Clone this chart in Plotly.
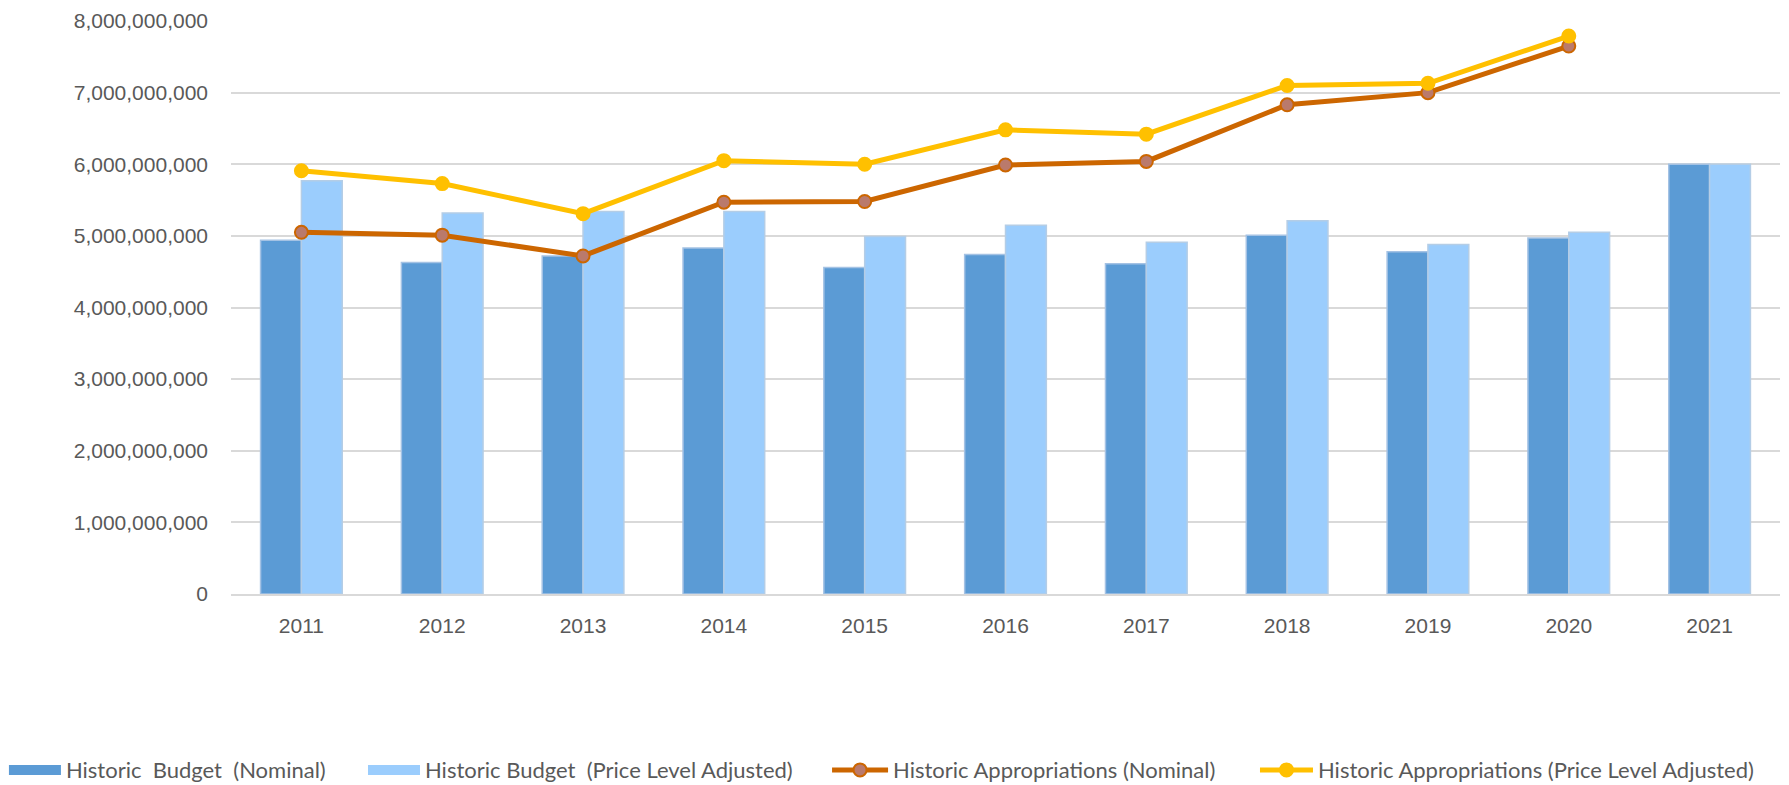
import plotly.graph_objects as go

years = ["2011", "2012", "2013", "2014", "2015", "2016", "2017", "2018", "2019", "2020", "2021"]
budget_nominal = [4.94e9, 4.63e9, 4.72e9, 4.83e9, 4.56e9, 4.74e9, 4.61e9, 5.01e9, 4.78e9, 4.97e9, 6.00e9]
budget_adjusted = [5.77e9, 5.32e9, 5.34e9, 5.34e9, 4.99e9, 5.15e9, 4.91e9, 5.21e9, 4.88e9, 5.05e9, 6.00e9]
approp_years = ["2011", "2012", "2013", "2014", "2015", "2016", "2017", "2018", "2019", "2020"]
approp_nominal = [5.05e9, 5.01e9, 4.72e9, 5.47e9, 5.48e9, 5.99e9, 6.04e9, 6.83e9, 7.00e9, 7.65e9]
approp_adjusted = [5.91e9, 5.73e9, 5.31e9, 6.05e9, 6.00e9, 6.48e9, 6.42e9, 7.10e9, 7.13e9, 7.79e9]
y_ticks = [0, 1e9, 2e9, 3e9, 4e9, 5e9, 6e9, 7e9, 8e9]

names = ["Historic  Budget  (Nominal)", "Historic Budget  (Price Level Adjusted)",
         "Historic Appropriations (Nominal)", "Historic Appropriations (Price Level Adjusted)"]

C_DARK = "#5B9BD5"
C_LIGHT = "#9BCDFD"
C_ORANGE = "#CC6600"
C_YELLOW = "#FFC000"

fig = go.Figure()
fig.add_trace(go.Bar(x=years, y=budget_nominal, name=names[0], showlegend=False,
                     marker=dict(color=C_DARK, line=dict(color="#A4C2E4", width=1.5))))
fig.add_trace(go.Bar(x=years, y=budget_adjusted, name=names[1], showlegend=False,
                     marker=dict(color=C_LIGHT, line=dict(color="#B4CDE6", width=1.5))))
# legend entries for the bar series (wide rectangle swatches as in the original)
fig.add_trace(go.Scatter(x=[None], y=[None], name=names[0], legend="legend", mode="lines",
                         line=dict(color=C_DARK, width=12), hoverinfo="skip"))
fig.add_trace(go.Scatter(x=[None], y=[None], name=names[1], legend="legend2", mode="lines",
                         line=dict(color=C_LIGHT, width=12), hoverinfo="skip"))
fig.add_trace(go.Scatter(x=approp_years, y=approp_nominal, name=names[2], legend="legend3",
                         mode="lines+markers",
                         line=dict(color=C_ORANGE, width=5),
                         marker=dict(symbol="circle", size=13, color="#BA7A6C",
                                     line=dict(color=C_ORANGE, width=2))))
fig.add_trace(go.Scatter(x=approp_years, y=approp_adjusted, name=names[3], legend="legend4",
                         mode="lines+markers",
                         line=dict(color=C_YELLOW, width=5),
                         marker=dict(symbol="circle", size=13, color=C_YELLOW,
                                     line=dict(color=C_YELLOW, width=2))))

legend_font = dict(family="Lato", size=22, color="#595959")
def leg(x, w):
    return dict(x=x, y=0.019, xref="container", yref="container", xanchor="left", yanchor="middle",
                orientation="h", font=legend_font, itemwidth=w, bgcolor="rgba(0,0,0,0)",
                itemclick=False, itemdoubleclick=False, visible=True)

fig.update_layout(
    width=1789, height=785,
    margin=dict(l=231, r=9, t=16, b=191),
    plot_bgcolor="white", paper_bgcolor="white",
    barmode="group", bargap=0.42, bargroupgap=0,
    showlegend=True,
    font=dict(family="Liberation Sans, Arial", color="#595959"),
    xaxis=dict(type="category", range=[-0.5, 10.5], showgrid=False, showline=True,
               linecolor="#D9D9D9", linewidth=1.5,
               ticks="", tickfont=dict(size=21, color="#595959"), ticklabelstandoff=12),
    yaxis=dict(range=[0, 8e9], tickvals=y_ticks, tickformat=",d", showgrid=True,
               gridcolor="#D9D9D9", gridwidth=1.5, zeroline=False, showline=False, ticks="",
               tickfont=dict(size=21, color="#595959"), ticklabelstandoff=22),
    legend=leg(0.0022, 52),
    legend2=leg(0.2029, 52),
    legend3=leg(0.4623, 56),
    legend4=leg(0.7015, 53),
)

fig.write_html("out.html")
